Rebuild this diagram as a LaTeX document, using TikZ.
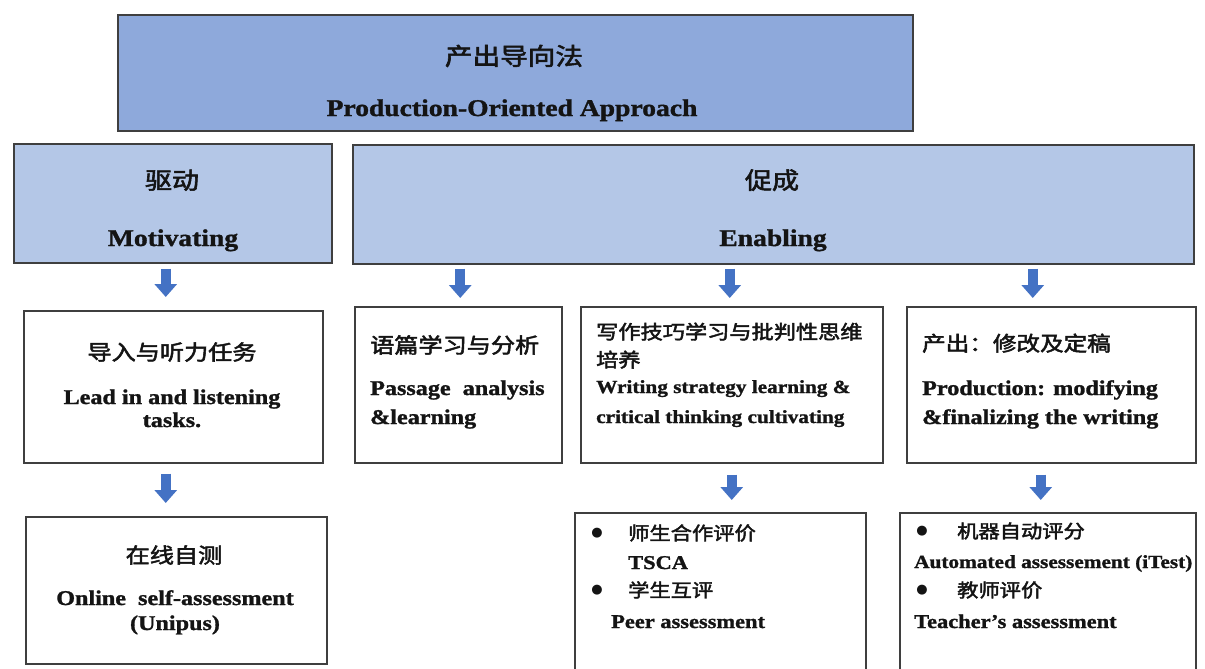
\documentclass[tikz,border=0pt]{standalone}
\usepackage{fontspec}
\usepackage{graphicx}
\setmainfont{Liberation Serif}[BoldFeatures={FakeBold=1.2}]
\newfontfamily\cjk{Noto Sans CJK SC}[AutoFakeBold=2.2]
\newfontfamily\dejavu{DejaVu Sans}
\usetikzlibrary{arrows.meta}
\definecolor{topblue}{HTML}{8EA9DB}
\definecolor{midblue}{HTML}{B4C7E7}
\definecolor{arrowblue}{HTML}{4472C4}
\definecolor{edgegray}{HTML}{3F3F3F}
\definecolor{ink}{HTML}{141414}
\newcommand\sx[1]{\scalebox{1.15}[1]{#1}}
\newcommand\fsz[1]{\fontsize{#1}{#1}\selectfont}
\tikzset{
  box/.style={draw=edgegray, line width=1.5pt, inner sep=0pt, anchor=north west},
  topbox/.style={box, fill=topblue, line width=2pt},
  midbox/.style={box, fill=midblue},
  whitebox/.style={box, fill=white},
  zh/.style={inner sep=0pt, text=ink, anchor=base, font=\cjk\bfseries\fsz{#1}},
  en/.style={inner sep=0pt, text=ink, anchor=base, font=\rmfamily\bfseries\fsz{#1}},
  zhl/.style={zh=#1, anchor=base west},
  enl/.style={en=#1, anchor=base west},
  bul/.style={inner sep=0pt, text=ink, anchor=center, font=\dejavu\fsz{13}},
  bigarrow/.style={draw=arrowblue, line width=10pt, -{Triangle[width=22pt,length=13pt]}}
}
\begin{document}
\begin{tikzpicture}[x=1pt,y=-1pt]
\useasboundingbox (0,0) rectangle (1205,669);
\clip (0,0) rectangle (1205,669);
% boxes
\node[topbox, minimum width=795pt, minimum height=116pt] (top) at (117,14) {};
\node[midbox, minimum width=318pt, minimum height=119pt] (mot) at (13,143) {};
\node[midbox, minimum width=841pt, minimum height=119pt] (enab) at (352,144) {};
\node[whitebox, minimum width=299pt, minimum height=152pt] (lead) at (23,310) {};
\node[whitebox, minimum width=207pt, minimum height=156pt] (pass) at (354,306) {};
\node[whitebox, minimum width=302pt, minimum height=156pt] (writ) at (580,306) {};
\node[whitebox, minimum width=289pt, minimum height=156pt] (prod) at (906,306) {};
\node[whitebox, minimum width=301pt, minimum height=147pt] (online) at (25,516) {};
\node[whitebox, minimum width=291pt, minimum height=200pt] (tsca) at (574,512) {};
\node[whitebox, minimum width=296pt, minimum height=200pt] (itest) at (899,512) {};
% texts
\node[zh=24] (t1) at (514,65) {\sx{产出导向法}};
\node[en=24] (t2) at (512,116) {\sx{Production-Oriented Approach}};
\node[zh=23.5] (m1) at (172,189) {\sx{驱动}};
\node[en=24] (m2) at (173,246) {\sx{Motivating}};
\node[zh=23.5] (e1) at (772,189) {\sx{促成}};
\node[en=24] (e2) at (773,246) {\sx{Enabling}};
\node[zh=21] (l1) at (172,360) {\sx{导入与听力任务}};
\node[en=21] (l2) at (172,404) {\sx{Lead in and listening}};
\node[en=21] (l3) at (172,427) {\sx{tasks.}};
\node[zhl=21] (p1) at (370,353) {\sx{语篇学习与分析}};
\node[enl=21] (p2) at (370,395) {\sx{Passage\ \ analysis}};
\node[enl=21] (p3) at (370,424) {\sx{\&learning}};
\node[zhl=19.3] (w1) at (596,339) {\sx{写作技巧学习与批判性思维}};
\node[zhl=19.3] (w2) at (596,367) {\sx{培养}};
\node[enl=18.5] (w3) at (596,393) {\sx{Writing strategy learning \&}};
\node[enl=18.5] (w4) at (596,423) {\sx{critical thinking cultivating}};
\node[zhl=20.5] (r1) at (922,351) {\sx{产出：修改及定稿}};
\node[enl=21] (r2) at (922,395) {\sx{Production: modifying}};
\node[enl=21] (r3) at (922,424) {\sx{\&finalizing the writing}};
\node[zh=21] (o1) at (174,563) {\sx{在线自测}};
\node[en=21] (o2) at (175,605) {\sx{Online\ \ self-assessment}};
\node[en=21] (o3) at (175,630) {\sx{(Unipus)}};
\node[bul] (b1) at (597,533) {●};
\node[zhl=18.5] (s1) at (628,540) {\sx{师生合作评价}};
\node[enl=19.5] (s2) at (628,569) {\sx{TSCA}};
\node[bul] (b2) at (597,590) {●};
\node[zhl=18.5] (s3) at (628,597) {\sx{学生互评}};
\node[enl=19.5] (s4) at (611,628) {\sx{Peer assessment}};
\node[bul] (b3) at (922,531) {●};
\node[zhl=18.5] (i1) at (957,538) {\sx{机器自动评分}};
\node[enl=18.5] (i2) at (914,568) {\sx{Automated assessement (iTest)}};
\node[bul] (b4) at (922,590) {●};
\node[zhl=18.5] (i3) at (957,597) {\sx{教师评价}};
\node[enl=19.5] (i4) at (914,628) {\sx{Teacher’s assessment}};
% arrows
\draw[bigarrow, shorten <=5pt, shorten >=13pt, transform canvas={xshift=-7pt}] (mot.south) -- (mot.south |- lead.north);
\draw[bigarrow, shorten <=4pt, shorten >=8pt, transform canvas={xshift=2pt}] (enab.south -| pass.north) -- (pass.north);
\draw[bigarrow, shorten <=4pt, shorten >=8pt, transform canvas={xshift=-2pt}] (enab.south -| writ.north) -- (writ.north);
\draw[bigarrow, shorten <=4pt, shorten >=8pt, transform canvas={xshift=-18.5pt}] (enab.south -| prod.north) -- (prod.north);
\draw[bigarrow, shorten <=10pt, shorten >=13pt, transform canvas={xshift=-7.5pt}] (lead.south) -- (lead.south |- online.north);
\draw[bigarrow, shorten <=11pt, shorten >=12pt] (writ.south) -- (writ.south |- tsca.north);
\draw[bigarrow, shorten <=11pt, shorten >=12pt, transform canvas={xshift=-10.5pt}] (prod.south) -- (prod.south |- itest.north);
\end{tikzpicture}
\end{document}
